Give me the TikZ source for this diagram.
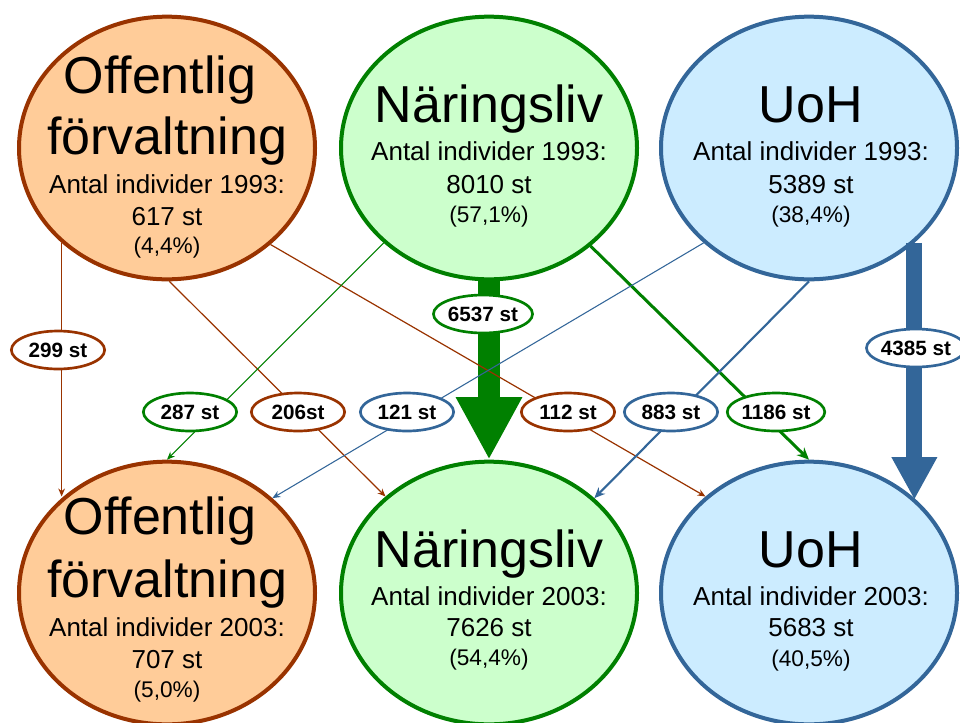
\documentclass[tikz,border=0pt]{standalone}
\usepackage{fontspec}
\setmainfont{Liberation Sans}
\usetikzlibrary{shapes.geometric,arrows.meta}
\definecolor{brn}{HTML}{993300}
\definecolor{orf}{HTML}{FFCC99}
\definecolor{grn}{HTML}{008000}
\definecolor{grf}{HTML}{CCFFCC}
\definecolor{blu}{HTML}{336699}
\definecolor{blf}{HTML}{CCECFF}
\begin{document}
\begin{tikzpicture}[x=0.75pt,y=-0.75pt,
  bigell/.style={ellipse, minimum width=222pt, minimum height=197pt, inner sep=0pt, line width=3pt},
  ttl/.style={anchor=base, inner sep=0pt, font=\fontsize{39}{39}\selectfont},
  info/.style={anchor=base, inner sep=0pt, font=\fontsize{19.5}{19.5}\selectfont},
  pct/.style={anchor=base, inner sep=0pt, font=\fontsize{17}{17}\selectfont},
  lab/.style={ellipse, fill=white, line width=2pt, minimum width=70pt, minimum height=28.5pt, inner sep=0pt, font=\bfseries\fontsize{15.5}{15.5}\selectfont},
  thinarr/.style={line width=0.9pt, -{Stealth[length=6pt,width=5pt]}},
]
\useasboundingbox (0,0) rectangle (960,722);
% ellipses
\node[bigell, draw=brn, fill=orf] (o1) at (167,148) {};
\node[bigell, draw=grn, fill=grf] (n1) at (489,148) {};
\node[bigell, draw=blu, fill=blf] (u1) at (809,148) {};
\node[bigell, draw=brn, fill=orf] (o2) at (167,593) {};
\node[bigell, draw=grn, fill=grf] (n2) at (489,593) {};
\node[bigell, draw=blu, fill=blf] (u2) at (809,593) {};
% texts top
\node[ttl] (o1t1) at (160,93) {Offentlig};
\node[ttl] (o1t2) at (167,154) {förvaltning};
\node[info] (o1a) at (167,193) {Antal individer 1993:};
\node[info] (o1n) at (167,225) {617 st};
\node[pct] (o1p) at (167,253) {(4,4\%)};
\node[ttl] (n1t) at (489,122) {Näringsliv};
\node[info] (n1a) at (489,160) {Antal individer 1993:};
\node[info] (n1n) at (489,193) {8010 st};
\node[pct] (n1p) at (489,222) {(57,1\%)};
\node[ttl] (u1t) at (811,122) {UoH};
\node[info] (u1a) at (811,160) {Antal individer 1993:};
\node[info] (u1n) at (811,193) {5389 st};
\node[pct] (u1p) at (811,222) {(38,4\%)};
% texts bottom
\node[ttl] (o2t1) at (160,534) {Offentlig};
\node[ttl] (o2t2) at (167,597) {förvaltning};
\node[info] (o2a) at (167,636) {Antal individer 2003:};
\node[info] (o2n) at (167,668) {707 st};
\node[pct] (o2p) at (167,697) {(5,0\%)};
\node[ttl] (n2t) at (489,567) {Näringsliv};
\node[info] (n2a) at (489,605) {Antal individer 2003:};
\node[info] (n2n) at (489,636) {7626 st};
\node[pct] (n2p) at (489,665) {(54,4\%)};
\node[ttl] (u2t) at (811,567) {UoH};
\node[info] (u2a) at (811,605) {Antal individer 2003:};
\node[info] (u2n) at (811,636) {5683 st};
\node[pct] (u2p) at (811,666) {(40,5\%)};
% big arrows
\draw[grn, line width=16.5pt, -{Triangle[width=46.5pt,length=47pt]}] (n1.south) -- (n2.north);
\draw[blu, line width=12pt, -{Triangle[width=32pt,length=32pt]}] (u1.318.3) -- (u1.318.3 |- u2.41.7);
% thin connectors
\draw[brn, thinarr] (o1.222.2) -- (o1.222.2 |- o2.137.8);
\draw[brn, thinarr] (o1.271) -- (n2.137.5);
\draw[brn, thinarr] (o1.317.5) -- (u2.137.5);
\draw[grn, line width=0.8pt, -{Stealth[length=6pt,width=5pt]}] (n1.222.8) -- (o2.north);
\draw[grn, line width=2.25pt, -{Stealth[length=9pt,width=8pt]}] (n1.316.7) -- (u2.north);
\draw[blu, line width=0.8pt, -{Stealth[length=6pt,width=5pt]}] (u1.222.5) -- (o2.42.2);
\draw[blu, line width=1.6pt, -{Stealth[length=8pt,width=7pt]}] (u1.south) -- (n2.42.8);
% labels
\node[lab, draw=brn] (l299) at (58,350) {299 st};
\node[lab, draw=grn] (l287) at (190,412) {287 st};
\node[lab, draw=brn] (l206) at (298,412) {206st};
\node[lab, draw=blu] (l121) at (407,412) {121 st};
\node[lab, draw=grn] (l6537) at (483,314) {6537 st};
\node[lab, draw=brn] (l112) at (568,412) {112 st};
\node[lab, draw=blu] (l883) at (671,412) {883 st};
\node[lab, draw=grn] (l1186) at (776,412) {1186 st};
\node[lab, draw=blu] (l4385) at (916,348) {4385 st};
\end{tikzpicture}
\end{document}
